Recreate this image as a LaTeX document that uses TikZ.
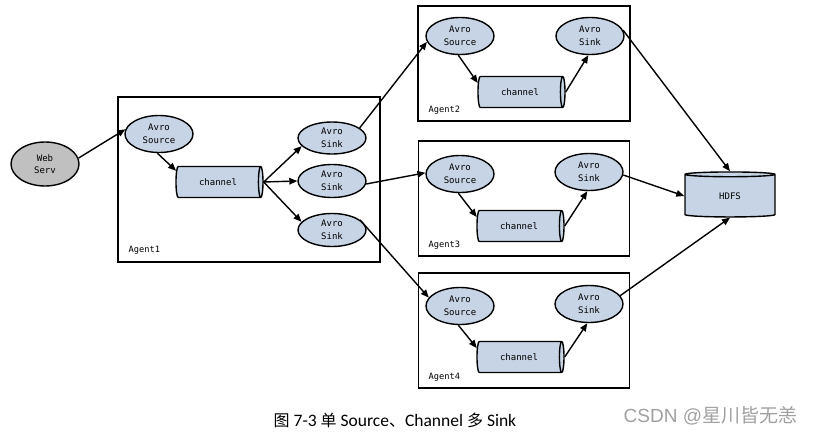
\documentclass[tikz,border=0pt]{standalone}
\usepackage{fontspec}
\setmonofont{DejaVu Sans Mono}
\setmainfont{Carlito}
\newfontfamily\cjk{Noto Sans CJK SC}
\usetikzlibrary{shapes.geometric,arrows.meta}
\definecolor{nodeblue}{RGB}{199,212,229}
\definecolor{nodegray}{RGB}{192,192,192}
\definecolor{markgray}{RGB}{160,160,160}
\begin{document}
\begin{tikzpicture}[x=1pt,y=-1pt,line width=1.4pt,>={Triangle[length=8pt,width=6.5pt]}]
\tikzstyle{vertex}=[draw, ellipse, fill=nodeblue, inner sep=0pt, minimum width=68pt, minimum height=37pt, align=center, font=\ttfamily\fontsize{9}{12.7}\selectfont]
\tikzstyle{websrv}=[vertex, fill=nodegray, minimum height=44pt]
\tikzstyle{chan}=[draw, cylinder, fill=nodeblue, shape aspect=0.65, inner sep=0pt, minimum width=31pt, minimum height=87pt, font=\ttfamily\fontsize{9}{12.7}\selectfont]
\tikzstyle{store}=[chan, shape border rotate=90, shape aspect=0.22, minimum width=90pt, minimum height=45pt]
\tikzstyle{agent}=[draw, rectangle, inner sep=0pt]
\tikzstyle{tag}=[anchor=west, inner sep=0pt, font=\ttfamily\fontsize{8.7}{10}\selectfont]

\useasboundingbox (0,0) rectangle (813,434);

\node[agent, minimum width=262pt, minimum height=165pt] (A1) at (249,179.5) {};
\node[agent, minimum width=212pt, minimum height=115pt] (A2) at (524,63.5) {};
\node[agent, minimum width=211pt, minimum height=115pt] (A3) at (524,198.5) {};
\node[agent, minimum width=211pt, minimum height=115pt] (A4) at (524,330.5) {};
\node[tag] (L1) at (128,250) {Agent1};
\node[tag] (L2) at (428,110) {Agent2};
\node[tag] (L3) at (428,245) {Agent3};
\node[tag] (L4) at (428,377) {Agent4};

\node[websrv] (W) at (45,164) {Web\\Serv};
\node[vertex] (S1) at (159,134) {Avro\\Source};
\node[chan] (C1) at (218,182) {channel};
\node[vertex, minimum height=32pt] (K1a) at (332,138) {Avro\\Sink};
\node[vertex, minimum height=33pt] (K1b) at (332,181) {Avro\\Sink};
\node[vertex, minimum height=33pt] (K1c) at (332,230) {Avro\\Sink};

\node[vertex] (S2) at (460,36) {Avro\\Source};
\node[chan] (C2) at (520,92) {channel};
\node[vertex] (K2) at (590,36) {Avro\\Sink};
\node[vertex] (S3) at (460,174) {Avro\\Source};
\node[chan] (C3) at (519,226) {channel};
\node[vertex] (K3) at (589,172) {Avro\\Sink};
\node[vertex] (S4) at (460,306) {Avro\\Source};
\node[chan] (C4) at (519,357) {channel};
\node[vertex] (K4) at (589,304) {Avro\\Sink};

\node[store] (H) at (730,196) {HDFS};

\draw[->] (W.10) -- (S1.172);
\draw[->] (S1.-95) -- (C1.165);
\draw[->] (C1.east) -- (K1a.195);
\draw[->] (C1.east) -- (K1b.west);
\draw[->] (C1.east) -- (K1c.165);
\draw[->] (K1a.20) -- (S2.190);
\draw[->] (K1b.-5) -- (S3.178);
\draw[->] (K1c.20) -- (S4.165);
\draw[->] (S2.-95) -- (C2.168);
\draw[->] (C2.east) -- (K2.-95);
\draw[->] (S3.-95) -- (C3.168);
\draw[->] (C3.east) -- (K3.-95);
\draw[->] (S4.-95) -- (C4.168);
\draw[->] (C4.east) -- (K4.-95);
\draw[->] (K2.10) -- (H.north);
\draw[->] (K3.-5) -- (H.west);
\draw[->] (K4.15) -- (H.south);

\node[anchor=west, inner sep=0pt, font=\fontsize{17.5}{20}\selectfont] (cap) at (273,420) {{\cjk\fontsize{16}{20}\selectfont 图} 7-3 {\cjk\fontsize{16}{20}\selectfont 单} Source{\cjk\fontsize{16}{20}\selectfont 、}Channel {\cjk\fontsize{16}{20}\selectfont 多} Sink};
\node[anchor=west, inner sep=0pt, text=markgray, font=\fontsize{19}{21}\selectfont] (mark) at (623,416) {{\fontspec{Liberation Sans}CSDN @}{\cjk 星川皆无恙}};
\end{tikzpicture}
\end{document}
